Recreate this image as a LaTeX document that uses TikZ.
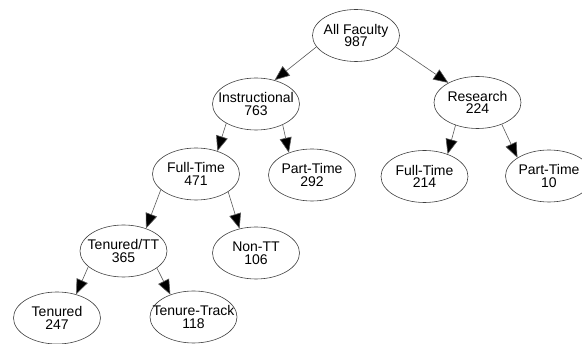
\documentclass[tikz,border=0pt]{standalone}
\usepackage{fontspec}
\setmainfont{Liberation Sans}
\usetikzlibrary{shapes.geometric,arrows.meta}
\tikzset{
  fac/.style={ellipse, draw=black!75, line width=0.6pt, minimum width=87pt, minimum height=52pt, inner sep=0pt},
  lbl/.style={align=center, inner sep=0pt, font=\fontsize{14}{12.8}\selectfont},
  edge/.style={draw=black!65, line width=0.6pt, -{Triangle[length=15pt, width=12pt, fill=black]}}
}
\begin{document}
\begin{tikzpicture}[x=1pt, y=-1pt]
\useasboundingbox (0,0) rectangle (582,344);
\clip (0,0) rectangle (582,344);
\node[fac, label={[lbl]center:All Faculty\\987}] (af) at (356,35.5) {};
\node[fac, label={[lbl]center:Instructional\\763}] (ins) at (256,104) {};
\node[fac, label={[lbl]center:Research\\224}] (res) at (477.5,102.5) {};
\node[fac, label={[lbl]center:Full-Time\\471}] (ft1) at (196,174) {};
\node[fac, label={[lbl]center:Part-Time\\292}] (pt1) at (312,175) {};
\node[fac, label={[lbl]center:Full-Time\\214}] (ft2) at (424.5,176.5) {};
\node[fac, label={[lbl]center:Part-Time\\10}] (pt2) at (549,176) {};
\node[fac, label={[lbl]center:Tenured/TT\\365}] (ttt) at (123.5,251) {};
\node[fac, label={[lbl]center:Non-TT\\106}] (ntt) at (256,253) {};
\node[fac, label={[lbl]center:Tenured\\247}] (ten) at (57,318) {};
\node[fac, label={[lbl]center:Tenure-Track\\118}] (tt) at (193.5,317) {};

\draw[edge] (af.196) -- (ins.52);
\draw[edge] (af.344) -- (res.146);
\draw[edge] (ins.213) -- (ft1.47);
\draw[edge] (ins.322) -- (pt1.136);
\draw[edge] (res.226) -- (ft2.44);
\draw[edge] (res.318) -- (pt2.150);
\draw[edge] (ft1.204) -- (ttt.45);
\draw[edge] (ft1.331) -- (ntt.124);
\draw[edge] (ttt.204) -- (ten.51);
\draw[edge] (ttt.333) -- (tt.136);
\end{tikzpicture}
\end{document}
